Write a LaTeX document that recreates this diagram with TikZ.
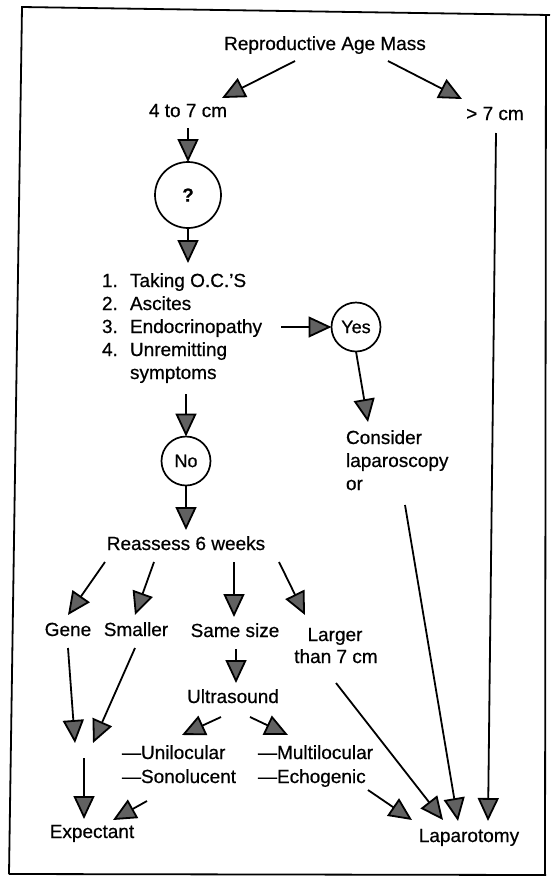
\documentclass[tikz,border=0pt]{standalone}
\usepackage{fontspec}
\setmainfont{Liberation Sans}[FakeBold=0.6]
\usetikzlibrary{arrows.meta}
\begin{document}
\begin{tikzpicture}[x=1pt,y=-1pt,
  lbl/.style={font=\fontsize{19}{23}\selectfont, inner sep=0pt, outer sep=0pt, anchor=base},
  lblw/.style={lbl, anchor=base west},
  circ/.style={circle, draw, line width=1.7pt, inner sep=0pt, outer sep=0pt, font=\fontsize{18}{22}\selectfont},
  arr/.style={line width=1.8pt, -{Triangle[length=23pt,width=21pt,fill=black!62]}},
  frame/.style={line width=1.8pt}
]
\useasboundingbox (0,0) rectangle (550,876);
% frame
\draw[frame] (9,874) -- (22,7) -- (550,15);
\draw[frame] (546,15) -- (545,876);
\draw[frame] (9,874) -- (546,875);

% nodes
\node[lbl] (rep) at (325,50) {Reproductive Age Mass};
\node[lbl] (four) at (188,117) {4 to 7 cm};
\node[lbl] (gt) at (495,120) {> 7 cm};
\node[circ, minimum size=66pt, font=\fontsize{19}{22}\selectfont\bfseries] (q) at (188,195) {?};
\node[lblw] (l1) at (102,287) {\makebox[28pt][l]{1.}Taking O.C.'S};
\node[lblw] (l2) at (102,310) {\makebox[28pt][l]{2.}Ascites};
\node[lblw] (l3) at (102,333) {\makebox[28pt][l]{3.}Endocrinopathy};
\node[lblw] (l4) at (102,356) {\makebox[28pt][l]{4.}Unremitting};
\node[lblw] (l5) at (102,379) {\makebox[28pt][l]{}symptoms};
\node[circ, minimum size=49pt] (yes) at (356,327) {Yes};
\node[lblw] (c1) at (346,444) {Consider};
\node[lblw] (c2) at (346,467) {laparoscopy};
\node[lblw] (c3) at (346,490) {or};
\node[circ, minimum size=49pt] (no) at (186,461) {No};
\node[lbl] (re) at (186,550) {Reassess 6 weeks};
\node[lbl] (gene) at (68,636) {Gene};
\node[lbl] (sm) at (136,636) {Smaller};
\node[lbl] (same) at (235,637) {Same size};
\node[lbl] (lg) at (335,641) {Larger};
\node[lbl] (than) at (336,663) {than 7 cm};
\node[lbl] (us) at (233,703) {Ultrasound};
\node[lblw] (uni) at (122,759) {—Unilocular};
\node[lblw] (sono) at (122,783) {—Sonolucent};
\node[lblw] (multi) at (258,759) {—Multilocular};
\node[lblw] (echo) at (258,783) {—Echogenic};
\node[lbl] (exp) at (92,838) {Expectant};
\node[lbl] (lap) at (469,842) {Laparotomy};
\coordinate (merge) at (84,750);

% connectors
\draw[arr] ([shift={(-30,11)}]rep.base) -- ([shift={(34,-19)}]four.base);
\draw[arr] ([shift={(63,11)}]rep.base) -- ([shift={(-33,-21)}]gt.base);
\draw[arr] ([shift={(0,11)}]four.base) -- (q.north);
\draw[arr] (q.south) -- ([shift={(86,-24)}]l1.base west);
\draw[arr] ([shift={(179,-6)}]l3.base west) -- (yes.west);
\draw[arr] (yes.south) -- ([shift={(22,-22)}]c1.base west);
\draw[arr] ([shift={(84,15)}]l5.base west) -- (no.north);
\draw[arr] (no.south) -- ([shift={(0,-20)}]re.base);
\draw[arr] ([shift={(-81,12)}]re.base) -- ([shift={(0,-21)}]gene.base);
\draw[arr] ([shift={(-32,12)}]re.base) -- ([shift={(-1,-21)}]sm.base);
\draw[arr] ([shift={(48,12)}]re.base) -- ([shift={(-1,-20)}]same.base);
\draw[arr] ([shift={(93,12)}]re.base) -- ([shift={(-30,-26)}]lg.base);
\draw[arr] ([shift={(1,12)}]same.base) -- ([shift={(3,-20)}]us.base);
\draw[arr] ([shift={(-12,14)}]us.base) -- ([shift={(60,-24)}]uni.base west);
\draw[arr] ([shift={(17,14)}]us.base) -- ([shift={(30,-24)}]multi.base west);
\draw[arr] ([shift={(0,12)}]gene.base) -- ([shift={(-9,-7)}]merge);
\draw[arr] ([shift={(-1,12)}]sm.base) -- ([shift={(9,-7)}]merge);
\draw[arr] ([shift={(0,8)}]merge) -- ([shift={(-8,-19)}]exp.base);
\draw[arr] ([shift={(25,18)}]sono.base west) -- ([shift={(21,-18)}]exp.base);
\draw[arr] ([shift={(110,7)}]echo.base west) -- ([shift={(-57,-22)}]lap.base);
\draw[arr] ([shift={(0,20)}]than.base) -- ([shift={(-26,-22)}]lap.base);
\draw[arr] ([shift={(59,15)}]c3.base west) -- ([shift={(-11,-21)}]lap.base);
\draw[arr] ([shift={(1,13)}]gt.base) -- ([shift={(19,-21)}]lap.base);
\end{tikzpicture}
\end{document}
